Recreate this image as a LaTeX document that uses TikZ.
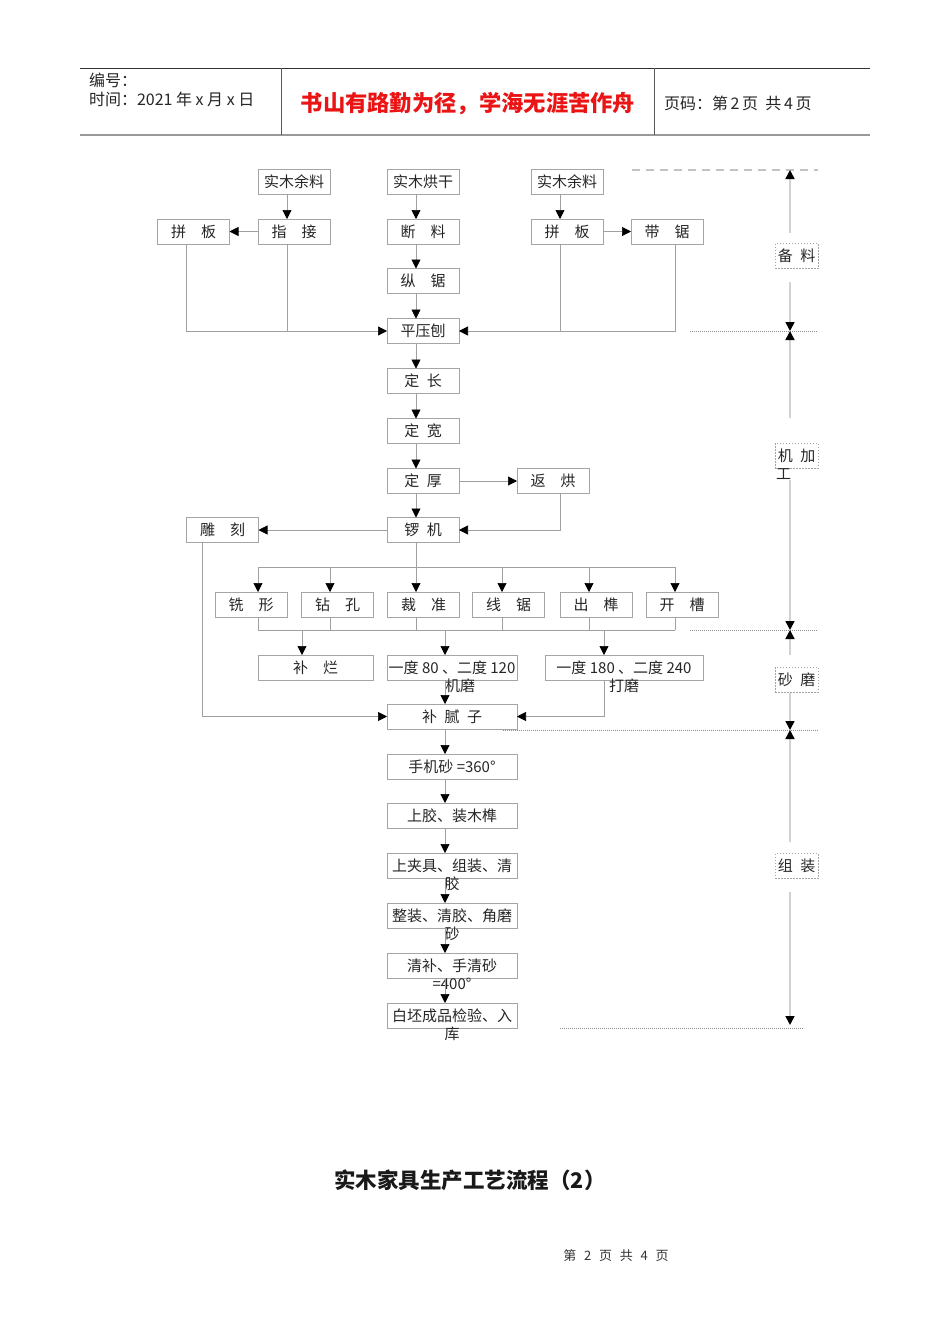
\documentclass[tikz,border=0pt]{standalone}
\usepackage{fontspec}
\setmainfont{Noto Sans CJK SC}
\usetikzlibrary{arrows.meta}
\definecolor{boxc}{RGB}{165,165,165}
\definecolor{linec}{RGB}{160,160,160}
\definecolor{tlc}{RGB}{210,210,210}
\definecolor{dashc}{RGB}{195,195,195}
\definecolor{dotc}{RGB}{140,140,140}
\definecolor{redt}{RGB}{235,20,20}
\newcommand\bxf{\fontsize{15}{17}\selectfont}
\newcommand\gp{\hspace{1em}}
\newcommand\hg{\hspace{0.5em}}
\begin{document}
\begin{tikzpicture}[x=1pt,y=-1pt,
  every node/.style={inner sep=0pt,outer sep=0pt},
  box/.style={draw=boxc,line width=0.7pt,minimum width=72pt,minimum height=25pt,font=\bxf,text=black!85},
  wbox/.style={box,minimum width=130pt},
  ovl/.style={font=\bxf,text=black!85},
  tag/.style={draw=boxc,dash pattern=on 1.5pt off 1.5pt,line width=0.6pt,minimum width=43pt,minimum height=25pt,font=\bxf,text=black!85},
  ln/.style={draw=linec,line width=0.7pt},
  ar/.style={ln,-{Triangle[length=9pt,width=9pt,color=black]}},
  tl/.style={draw=tlc,line width=1.6pt},
  tlend/.style={tl,-{Triangle[length=9pt,width=9pt,color=black]}},
  dotl/.style={draw=dotc,line width=0.6pt,dash pattern=on 1pt off 1pt},
  dashl/.style={draw=dashc,line width=1.1pt,dash pattern=on 8pt off 6pt},
  hdr/.style={font=\fontsize{16}{18}\selectfont,text=black!85},
]
\fill[white] (0,0) rectangle (950,1344);
\useasboundingbox (0,0) rectangle (950,1344);

% ---------- header ----------
\draw[black!80,line width=0.8pt] (80,68) -- (870,68);
\draw[black!40,line width=2pt] (80,135) -- (870,135);
\draw[black!65,line width=0.8pt] (281,68) -- (281,135);
\draw[black!65,line width=0.8pt] (654,68) -- (654,135);
\node[hdr,anchor=west] (bh) at (89,80) {编号：};
\node[hdr,anchor=west] (sj) at (89,99) {时间：2021 年 x 月 x 日};
\node[font=\fontsize{22.3}{25}\selectfont\bfseries,text=redt] (motto) at (468,104) {书山有路勤为径，学海无涯苦作舟};
\node[hdr,anchor=west] (ym) at (664,103) {页码：第\,2\,页\ \ 共\,4\,页};

% ---------- boxes ----------
\node[box] (sy1) at (294,181.5) {实木余料};
\node[box] (hgan) at (423,181.5) {实木烘干};
\node[box] (sy2) at (567,181.5) {实木余料};
\node[box] (pb1) at (193.5,231.5) {拼\gp 板};
\node[box] (zj) at (294,231.5) {指\gp 接};
\node[box] (dl) at (423,231.5) {断\gp 料};
\node[box] (pb2) at (567,231.5) {拼\gp 板};
\node[box] (dj) at (667,231.5) {带\gp 锯};
\node[box] (zju) at (423,281) {纵\gp 锯};
\node[box] (pyb) at (423,331) {平压刨};
\node[box] (dc) at (423,381) {定\hg 长};
\node[box] (dk) at (423,431) {定\hg 宽};
\node[box] (dh) at (423,481) {定\hg 厚};
\node[box] (fh) at (553,481) {返\gp 烘};
\node[box] (lj) at (423,530) {锣\hg 机};
\node[box] (dke) at (222.5,530) {雕\gp 刻};
\node[box] (xx) at (251,604.5) {铣\gp 形};
\node[box] (zk) at (337.5,604.5) {钻\gp 孔};
\node[box] (cz) at (423.5,604.5) {裁\gp 准};
\node[box] (xj) at (508.5,604.5) {线\gp 锯};
\node[box] (cs) at (596,604.5) {出\gp 榫};
\node[box] (kc) at (682,604.5) {开\gp 槽};
\node[box,minimum width=115pt] (bl) at (315.5,667.5) {补\gp 烂};
\node[wbox] (m1) at (452,667.5) {一度 80 、二度 120};
\node[ovl] (m1b) at (460,685.5) {机磨};
\node[box,minimum width=158pt] (m2) at (624,667.5) {一度 180 、二度 240};
\node[ovl] (m2b) at (624,685.5) {打磨};
\node[wbox] (bnz) at (452,716.5) {补\hg 腻\hg 子};
\node[wbox] (s1) at (452,766.5) {手机砂 =360°};
\node[wbox] (s2) at (452,815.5) {上胶、装木榫};
\node[wbox] (s3) at (452,865.5) {上夹具、组装、清};
\node[ovl] (s3b) at (452,884) {胶};
\node[wbox] (s4) at (452,915.5) {整装、清胶、角磨};
\node[ovl] (s4b) at (452,934) {砂};
\node[wbox] (s5) at (452,965.5) {清补、手清砂};
\node[ovl] (s5b) at (452,984) {=400°};
\node[wbox] (s6) at (452,1015.5) {白坯成品检验、入};
\node[ovl] (s6b) at (452,1034) {库};

% ---------- junction coordinates ----------
\coordinate (jl) at (287,331);
\coordinate (jr) at (560,331);
\coordinate (d0) at (416,567);
\coordinate (r1) at (258,567);
\coordinate (r2) at (330,567);
\coordinate (r4) at (502,567);
\coordinate (r5) at (589,567);
\coordinate (r6) at (675,567);
\coordinate (u1) at (258,630);
\coordinate (u2) at (330,630);
\coordinate (u3) at (416,630);
\coordinate (u4) at (502,630);
\coordinate (u5) at (589,630);
\coordinate (u6) at (675,630);
\coordinate (v1) at (302,630);
\coordinate (v2) at (445,630);
\coordinate (v3) at (604,630);

% ---------- connectors: top ----------
\draw[ar] ([xshift=-7pt]sy1.south) -- ([xshift=-7pt]zj.north);
\draw[ar] (zj.west) -- (pb1.east);
\draw[ar] ([xshift=-7pt]pb1.south) |- (pyb.west);
\draw[ln] ([xshift=-7pt]zj.south) -- (jl);
\draw[ar] ([xshift=-7pt]hgan.south) -- ([xshift=-7pt]dl.north);
\draw[ar] ([xshift=-7pt]dl.south) -- ([xshift=-7pt]zju.north);
\draw[ar] ([xshift=-7pt]zju.south) -- ([xshift=-7pt]pyb.north);
\draw[ar] ([xshift=-7pt]sy2.south) -- ([xshift=-7pt]pb2.north);
\draw[ar] (pb2.east) -- (dj.west);
\draw[ar] ([xshift=8pt]dj.south) |- (pyb.east);
\draw[ln] ([xshift=-7pt]pb2.south) -- (jr);
\draw[ar] ([xshift=-7pt]pyb.south) -- ([xshift=-7pt]dc.north);
\draw[ar] ([xshift=-7pt]dc.south) -- ([xshift=-7pt]dk.north);
\draw[ar] ([xshift=-7pt]dk.south) -- ([xshift=-7pt]dh.north);
\draw[ar] ([xshift=-7pt]dh.south) -- ([xshift=-7pt]lj.north);
\draw[ar] (dh.east) -- (fh.west);
\draw[ar] ([xshift=7pt]fh.south) |- (lj.east);
\draw[ar] (lj.west) -- (dke.east);
\draw[ar] ([xshift=-20.5pt]dke.south) |- (bnz.west);

% ---------- distribution row ----------
\draw[ln] ([xshift=-7pt]lj.south) -- (d0);
\draw[ln] (r1) -- (r6);
\draw[ar] (r1) -- ([xshift=7pt]xx.north);
\draw[ar] (r2) -- ([xshift=-7.5pt]zk.north);
\draw[ar] (d0) -- ([xshift=-7.5pt]cz.north);
\draw[ar] (r4) -- ([xshift=-6.5pt]xj.north);
\draw[ar] (r5) -- ([xshift=-7pt]cs.north);
\draw[ar] (r6) -- ([xshift=-7pt]kc.north);
\draw[ln] ([xshift=7pt]xx.south) -- (u1);
\draw[ln] ([xshift=-7.5pt]zk.south) -- (u2);
\draw[ln] ([xshift=-7.5pt]cz.south) -- (u3);
\draw[ln] ([xshift=-6.5pt]xj.south) -- (u4);
\draw[ln] ([xshift=-7pt]cs.south) -- (u5);
\draw[ln] ([xshift=-7pt]kc.south) -- (u6);
\draw[ln] (u1) -- (u6);
\draw[ar] (v1) -- ([xshift=-13.5pt]bl.north);
\draw[ar] (v2) -- ([xshift=-7pt]m1.north);
\draw[ar] (v3) -- ([xshift=-20pt]m2.north);
\draw[ar] ([xshift=-7pt]m1.south) -- ([xshift=-7pt]bnz.north);
\draw[ar] ([xshift=-20pt]m2.south) |- (bnz.east);

% ---------- lower chain ----------
\draw[ar] ([xshift=-7pt]bnz.south) -- ([xshift=-7pt]s1.north);
\draw[ar] ([xshift=-7pt]s1.south) -- ([xshift=-7pt]s2.north);
\draw[ar] ([xshift=-7pt]s2.south) -- ([xshift=-7pt]s3.north);
\draw[ar] ([xshift=-7pt]s3.south) -- ([xshift=-7pt]s4.north);
\draw[ar] ([xshift=-7pt]s4.south) -- ([xshift=-7pt]s5.north);
\draw[ar] ([xshift=-7pt]s5.south) -- ([xshift=-7pt]s6.north);

% ---------- right-hand stage scale ----------
\draw[dashl] (632,170) -- (818,170);
\draw[dotl] (690,331) -- (818,331);
\draw[dotl] (690,630) -- (818,630);
\draw[dotl] (503,730) -- (818,730);
\draw[dotl] (560,1028) -- (803,1028);

\coordinate (t0) at (790,170);
\coordinate (t1) at (790,331);
\coordinate (t2) at (790,630);
\coordinate (t3) at (790,730);
\coordinate (t4) at (790,1025);

\node[tag] (lb1) at (796.5,256) {备\hg 料};
\node[tag] (lb2) at (796.5,455.5) {机\hg 加};
\node[ovl,anchor=north west] (lb2b) at ([xshift=1pt,yshift=-1pt]lb2.south west) {工};
\node[tag] (lb3) at (796.5,679.5) {砂\hg 磨};
\node[tag] (lb4) at (796.5,866) {组\hg 装};

\draw[tlend,shorten <=11pt] ([xshift=-6.5pt]lb1.north) -- (t0);
\draw[tlend,shorten <=13pt] ([xshift=-6.5pt]lb1.south) -- (t1);
\draw[tlend,shorten <=25pt] ([xshift=-6.5pt]lb2.north) -- (t1);
\draw[tlend,shorten <=12pt] ([xshift=-6.5pt]lb2.south) -- (t2);
\draw[tlend,shorten <=12pt] ([xshift=-6.5pt]lb3.north) -- (t2);
\draw[tlend,shorten <=1pt] ([xshift=-6.5pt]lb3.south) -- (t3);
\draw[tlend,shorten <=12pt] ([xshift=-6.5pt]lb4.north) -- (t3);
\draw[tlend,shorten <=13pt] ([xshift=-6.5pt]lb4.south) -- (t4);

% ---------- footer ----------
\node[font=\fontsize{21.5}{24}\selectfont\bfseries,text=black!90] (title) at (470,1180) {实木家具生产工艺流程（2）};
\node[font=\fontsize{13}{15}\selectfont,text=black!80] (pg) at (616,1256) {第\hspace{0.6em}2\hspace{0.6em}页\hspace{0.6em}共\hspace{0.6em}4\hspace{0.6em}页};
\end{tikzpicture}
\end{document}
